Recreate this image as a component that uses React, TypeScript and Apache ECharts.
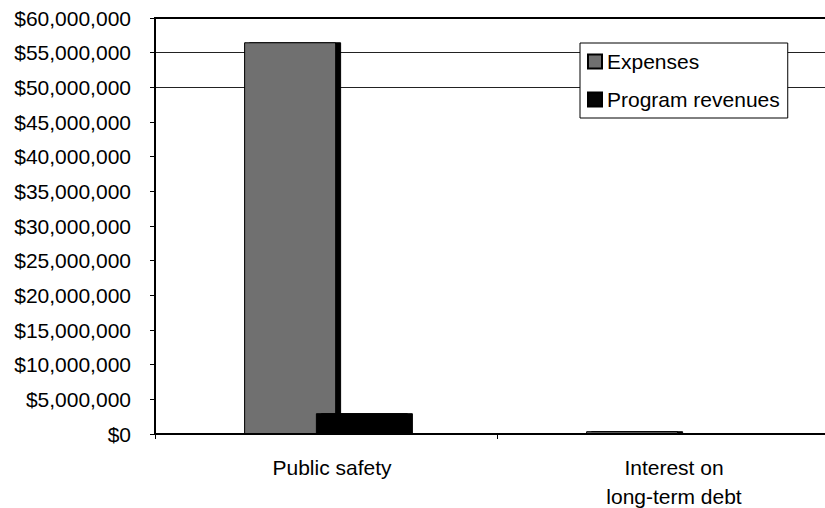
import React, { useEffect, useRef } from "react";
import * as echarts from "echarts";

const categories = ["Public safety", "Interest on\nlong-term debt"];
const expenses = [56500000, 400000];
const programRevenues = [3000000, 0];
const yTicks = { min: 0, max: 60000000, interval: 5000000 };

// grid line visibility per tick index (0 .. 60M): only 50M, 55M visible in the reference
const gridColors = [
  "transparent", "transparent", "transparent", "transparent", "transparent",
  "transparent", "transparent", "transparent", "transparent", "transparent",
  "#222", "#222", "transparent",
];

const FONT = "'Liberation Sans', Arial, sans-serif";

export default function App() {
  const ref = useRef<HTMLDivElement>(null);
  useEffect(() => {
    if (!ref.current) return;
    const chart = echarts.init(ref.current, null, { renderer: "svg" });
    chart.setOption({
      animation: false,
      backgroundColor: "#fff",
      textStyle: { fontFamily: FONT },
      grid: {
        left: 155,
        top: 18,
        width: 684,
        height: 416,
        containLabel: false,
        outerBoundsMode: "none",
        show: true,
        borderColor: "#000",
        borderWidth: 2,
        backgroundColor: "transparent",
      },
      legend: {
        orient: "vertical",
        left: 580,
        top: 43,
        padding: [8, 8, 8, 7],
        itemGap: 17,
        itemWidth: 14,
        itemHeight: 14,
        icon: "rect",
        borderColor: "#000",
        borderWidth: 1,
        backgroundColor: "#fff",
        textStyle: { fontSize: 21, color: "#000", fontFamily: FONT },
        data: ["Expenses", "Program revenues"],
      },
      xAxis: {
        type: "category",
        data: categories,
        axisLine: { lineStyle: { color: "#000", width: 2 } },
        axisTick: { show: true, interval: 0, length: 5, lineStyle: { color: "#000" } },
        axisLabel: {
          interval: 0,
          fontSize: 21,
          color: "#000",
          margin: 19,
          lineHeight: 29,
          padding: [0, 0, 0, 12],
          fontFamily: FONT,
        },
      },
      yAxis: {
        type: "value",
        min: yTicks.min,
        max: yTicks.max,
        interval: yTicks.interval,
        axisLine: { show: true, lineStyle: { color: "#000", width: 2 } },
        axisTick: { show: true, length: 5, lineStyle: { color: "#000" } },
        axisLabel: {
          fontSize: 21,
          color: "#000",
          margin: 24,
          fontFamily: FONT,
          formatter: (v: number) => "$" + v.toLocaleString("en-US"),
        },
        splitLine: { show: true, lineStyle: { color: gridColors, width: 1 } },
      },
      series: [
        {
          name: "Expenses",
          type: "bar",
          data: expenses,
          barWidth: 92,
          barGap: "-22%",
          itemStyle: {
            color: "#707070",
            borderColor: "#000",
            borderWidth: 1,
            shadowColor: "#000",
            shadowBlur: 0,
            shadowOffsetX: 5,
            shadowOffsetY: 0,
          },
        },
        {
          name: "Program revenues",
          type: "bar",
          data: programRevenues,
          barWidth: 92,
          itemStyle: {
            color: "#050505",
            borderColor: "#000",
            borderWidth: 1,
            shadowColor: "#000",
            shadowBlur: 0,
            shadowOffsetX: 5,
            shadowOffsetY: 0,
          },
        },
      ],
    });
    return () => chart.dispose();
  }, []);
  return <div ref={ref} style={{ width: 825, height: 508, position: "absolute", left: 0, top: 0 }} />;
}
